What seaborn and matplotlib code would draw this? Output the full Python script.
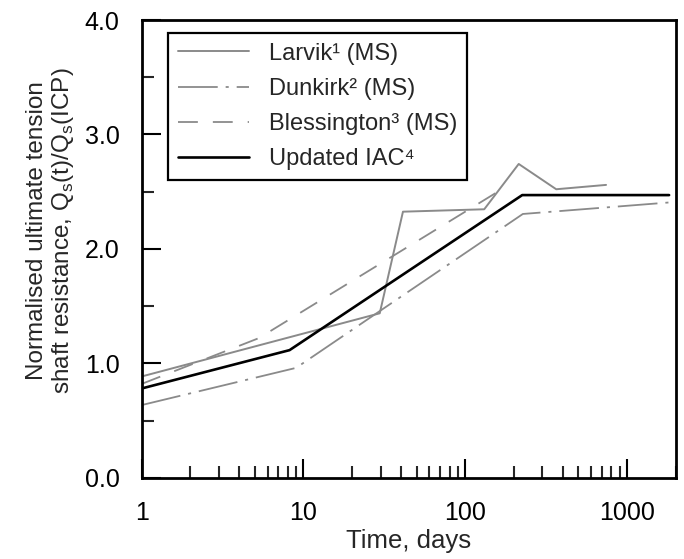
# -*- coding: utf-8 -*-
import numpy as np
import pandas as pd
import matplotlib
matplotlib.use("Agg")
import matplotlib.pyplot as plt
from matplotlib.ticker import FixedLocator, NullFormatter, MultipleLocator, FormatStrFormatter
import seaborn as sns

# Datos (tiempo en días, resistencia normalizada)
larvik_t = [1, 29.6, 41.2, 131, 214, 365, 742]
larvik_q = [0.885, 1.437, 2.325, 2.346, 2.742, 2.521, 2.559]

dunkirk_t = [1, 9.0, 227, 2000]
dunkirk_q = [0.635, 0.96, 2.305, 2.41]

bless_t = [1, 5.3, 155]
bless_q = [0.82, 1.22, 2.49]

iac_t = [1, 8.2, 225, 1820]
iac_q = [0.78, 1.115, 2.47, 2.47]

series_names = ["Larvik¹ (MS)", "Dunkirk² (MS)", "Blessington³ (MS)", "Updated IAC⁴"]
x_ticks = [1, 10, 100, 1000]
x_tick_labels = ["1", "10", "100", "1000"]

sns.set_style("ticks")
plt.rcParams["font.family"] = ["Liberation Sans", "DejaVu Sans"]
plt.rcParams["mathtext.fontset"] = "custom"
plt.rcParams["mathtext.rm"] = "Liberation Sans"

gris = "#8a8a8a"

fig = plt.figure(figsize=(6.84, 5.59), dpi=100)
ax = fig.add_axes([0.2072, 0.1454, 0.7807, 0.8188])

# Series
sns.lineplot(x=larvik_t, y=larvik_q, ax=ax, color=gris, lw=1.4,
             linestyle="-", label=series_names[0], sort=False, estimator=None)
sns.lineplot(x=dunkirk_t, y=dunkirk_q, ax=ax, color=gris, lw=1.3,
             linestyle=(0, (22, 4.4, 1.7, 4.4)), label=series_names[1], sort=False, estimator=None)
sns.lineplot(x=bless_t, y=bless_q, ax=ax, color=gris, lw=1.3,
             linestyle=(0, (11, 8.3)), label=series_names[2], sort=False, estimator=None)
sns.lineplot(x=iac_t, y=iac_q, ax=ax, color="black", lw=1.9,
             linestyle="-", label=series_names[3], sort=False, estimator=None)

# Ejes
ax.set_xscale("log")
ax.set_xlim(1, 2000)
ax.set_ylim(0, 4)

ax.xaxis.set_major_locator(FixedLocator(x_ticks))
ax.set_xticklabels(x_tick_labels)
minors = [m * 10 ** d for d in range(0, 4) for m in range(2, 10)]
ax.xaxis.set_minor_locator(FixedLocator(minors))
ax.xaxis.set_minor_formatter(NullFormatter())

ax.yaxis.set_major_locator(MultipleLocator(1.0))
ax.yaxis.set_minor_locator(MultipleLocator(0.5))
ax.yaxis.set_major_formatter(FormatStrFormatter("%.1f"))

ax.tick_params(axis="both", which="major", direction="in", length=13.5, width=1.5,
               labelsize=18, colors="black")
ax.tick_params(axis="both", which="minor", direction="in", length=8.5, width=1.5)
ax.tick_params(axis="x", which="major", pad=17)
ax.tick_params(axis="y", which="major", pad=16)
ax.tick_params(top=False, right=False, which="both")

for s in ax.spines.values():
    s.set_visible(True)
    s.set_linewidth(2.0)
    s.set_color("black")

ax.set_xlabel("Time, days", fontsize=18.5, labelpad=3)
ax.set_ylabel("Normalised ultimate tension\n"
              r"shaft resistance, Q$_{\mathregular{s}}$(t)/Q$_{\mathregular{s}}$(ICP)",
              fontsize=17.5, linespacing=1.1)
ax.yaxis.set_label_coords(-0.123, 0.54)

leg = ax.legend(loc="upper left", bbox_to_anchor=(0.049, 0.972), borderaxespad=0,
                fontsize=17, handlelength=3.0, handletextpad=0.85, labelspacing=0.56,
                borderpad=0.42, fancybox=False, framealpha=1, edgecolor="black")
leg.get_frame().set_linewidth(1.6)

fig.savefig("out.png", dpi=100)
